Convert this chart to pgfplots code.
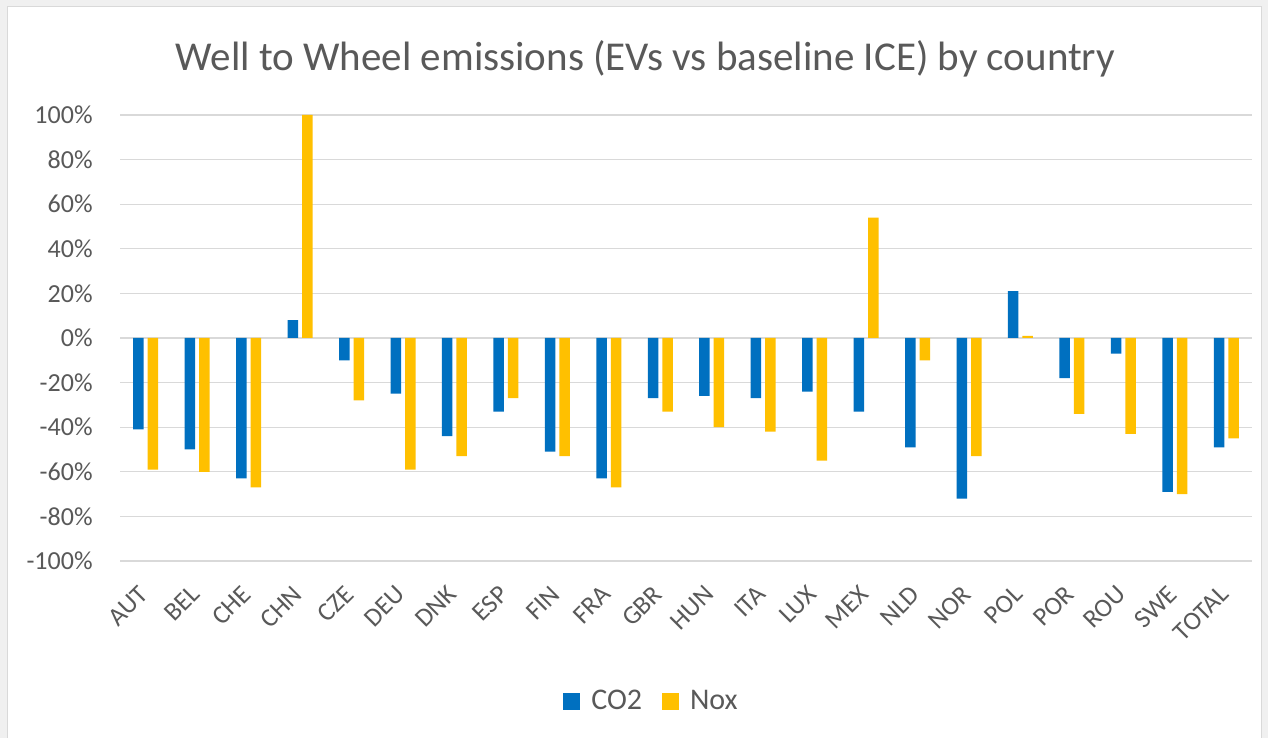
\documentclass[border=0pt]{standalone}
\usepackage{pgfplots}
\pgfplotsset{compat=1.18}
\usepackage{fontspec}
\setmainfont{Carlito}
\definecolor{cblue}{HTML}{0070C0}
\definecolor{cyell}{HTML}{FFC000}
\definecolor{txt}{HTML}{595959}
\definecolor{gridc}{HTML}{D9D9D9}
\definecolor{outer}{HTML}{F0F0F0}
\begin{document}
\begin{tikzpicture}
\fill[outer] (0,0) rectangle (634pt,369pt);
\fill[white] (3.5pt,0pt) rectangle (630.5pt,365.5pt);
\draw[gridc,line width=0.5pt] (3.5pt,0pt) -- (3.5pt,365.5pt) -- (630.5pt,365.5pt) -- (630.5pt,0pt);
\node[anchor=base,text=txt,font=\fontsize{20.5}{25}\selectfont,inner sep=0pt] at (322.75pt,333.5pt) {Well to Wheel emissions (EVs vs baseline ICE) by country};
\begin{axis}[
  at={(60pt,88.5pt)}, anchor=south west,
  scale only axis, width=566pt, height=223pt,
  ybar=2pt, bar width=5.25pt,
  xmin=-0.5, xmax=21.5,
  ymin=-100, ymax=100,
  xtick={0,...,21},
  xticklabels={AUT,BEL,CHE,CHN,CZE,DEU,DNK,ESP,FIN,FRA,GBR,HUN,ITA,LUX,MEX,NLD,NOR,POL,POR,ROU,SWE,TOTAL},
  ytick={-100,-80,-60,-40,-20,0,20,40,60,80,100},
  yticklabels={-100\%,-80\%,-60\%,-40\%,-20\%,0\%,20\%,40\%,60\%,80\%,100\%},
  axis line style={draw=none},
  major tick length=0pt,
  xtick style={draw=none},
  ytick style={draw=none},
  xmajorgrids=false,
  ymajorgrids=true,
  major grid style={draw=gridc,line width=0.6pt},
  yticklabel style={anchor=east,inner sep=0pt,xshift=-13.5pt,text=txt,font=\fontsize{13}{15}\selectfont},
  xticklabel style={inner sep=0pt,xshift=-1pt,yshift=-14.5pt,rotate=45,anchor=east,text=txt,font=\fontsize{13}{15}\selectfont},
  legend columns=2,
  legend style={at={(0.4704,-0.3139)},anchor=center,draw=none,fill=none,text=txt,font=\fontsize{15}{17}\selectfont,
    /tikz/every even column/.append style={column sep=8pt}},
  legend image code/.code={\fill[#1] (0pt,-4.25pt) rectangle (8.5pt,4.25pt); \path (12pt,0pt);},
  clip=true,
]
\addplot[fill=cblue,draw=none] coordinates {(0,-41) (1,-50) (2,-63) (3,8) (4,-10) (5,-25) (6,-44) (7,-33) (8,-51) (9,-63) (10,-27) (11,-26) (12,-27) (13,-24) (14,-33) (15,-49) (16,-72) (17,21) (18,-18) (19,-7) (20,-69) (21,-49)};
\addplot[fill=cyell,draw=none] coordinates {(0,-59) (1,-60) (2,-67) (3,100) (4,-28) (5,-59) (6,-53) (7,-27) (8,-53) (9,-67) (10,-33) (11,-40) (12,-42) (13,-55) (14,54) (15,-10) (16,-53) (17,1) (18,-34) (19,-43) (20,-70) (21,-45)};
\legend{CO2,Nox}
\end{axis}
\pgfresetboundingbox
\useasboundingbox (0,0) rectangle (634pt,369pt);
\end{tikzpicture}
\end{document}
